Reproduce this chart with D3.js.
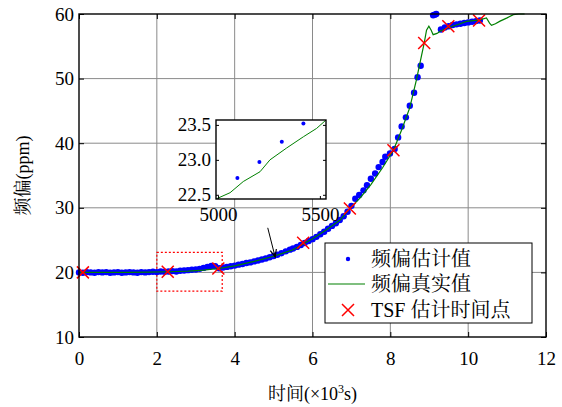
<!DOCTYPE html>
<html>
<head>
<meta charset="utf-8">
<script src="https://cdn.jsdelivr.net/npm/d3@7"></script>
<style>
body { margin: 0; background: #fff; }
</style>
</head>
<body>
<div id="chart"></div>
<script>
// estimated frequency offset (x in 10^3 s, y in ppm)
var estX = [0.0,0.1,0.2,0.3,0.4,0.5,0.6,0.7,0.8,0.9,1.0,1.1,1.2,1.3,1.4,1.5,1.6,1.7,1.8,1.9,
    2.0,2.1,2.2,2.3,2.4,2.5,2.6,2.7,2.8,2.9,3.0,3.1,3.2,3.3,3.4,3.5,3.6,3.7,3.8,3.9,
    4.0,4.1,4.2,4.3,4.4,4.5,4.6,4.7,4.8,4.9,5.0,5.095,5.203,5.313,5.419,5.5,5.6,5.7,5.8,5.9,
    6.0,6.1,6.2,6.3,6.4,6.5,6.6,6.7,6.8,6.9,7.0,7.1,7.2,7.31,7.4,7.5,7.61,7.7,7.8,7.87,
    7.99,8.11,8.2,8.29,8.4,8.5,8.61,8.7,8.78,9.1,9.14,9.18,9.3,9.4,9.5,9.6,9.7,9.8,9.9,10.0,10.1,10.2,10.3];
var estY = [20.0,19.95,20.05,20.0,19.95,20.05,20.0,20.05,19.95,20.0,20.05,19.95,20.0,20.05,20.0,19.95,20.05,20.0,20.05,20.1,
    20.05,20.15,20.1,20.15,20.2,20.15,20.25,20.3,20.35,20.4,20.45,20.55,20.7,20.85,21.0,20.95,20.65,20.75,20.85,20.95,
    21.05,21.2,21.3,21.45,21.55,21.7,21.85,22.0,22.15,22.35,22.55,22.74,22.97,23.26,23.52,23.7,23.95,24.25,24.55,24.85,
    25.15,25.5,25.9,26.3,26.75,27.2,27.6,28.1,28.7,29.4,30.3,31.4,32.0,32.7,33.5,34.5,35.3,36.3,37.1,37.9,
    38.4,39.1,40.9,42.6,44.0,45.8,47.8,50.2,52.0,59.8,59.9,60.0,57.6,57.9,58.1,58.3,58.4,58.5,58.6,58.7,58.8,58.9,59.0];

// true frequency offset
var trueX = [0,0.6,1.2,1.8,2.3,2.8,3.2,3.6,4.0,4.5,5.0,5.3,5.5,5.76,6.0,6.36,6.71,6.96,7.22,7.5,7.8,8.08,
    8.3,8.5,8.67,8.8,8.87,8.93,8.99,9.05,9.1,9.2,9.3,9.45,9.7,9.96,10.3,10.47,10.55,10.6,10.7,10.82,11.0,11.16,11.3,11.45];
var trueY = [20.0,20.0,20.0,20.05,20.1,20.2,20.35,20.6,21.0,21.7,22.5,23.1,23.5,24.4,25.2,26.6,28.1,29.9,31.5,33.6,36.2,38.9,
    42.2,45.5,49.8,53.5,55.5,57.5,58.1,57.5,56.8,57.0,57.4,57.8,58.3,58.85,59.1,59.4,58.6,58.25,58.5,58.9,59.4,59.9,60.0,60.0];

// TSF estimation time points
var tsfX = [0.1,2.28,3.58,5.76,6.96,8.08,8.87,9.49,10.28];
var tsfY = [20.0,20.1,20.6,24.6,29.9,38.9,55.5,58.1,59.0];

// inset (x in s)
var insetTrueX = [4990,5059,5124,5206,5255,5337,5419,5484,5530];
var insetTrueY = [22.44,22.53,22.69,22.83,23.0,23.17,23.33,23.45,23.57];
var insetEstX = [5095,5203,5313,5419];
var insetEstY = [22.74,22.97,23.26,23.52];

var xTicks = [0,2,4,6,8,10,12];
var yTicks = [10,20,30,40,50,60];
var insetXTicks = [5000,5500];
var insetYTicks = [22.5,23.0,23.5];
var legendLabels = ['频偏估计值', '频偏真实值', 'TSF 估计时间点'];

var FONT = '"Liberation Serif", "Noto Serif CJK SC", serif';

var width = 562, height = 407;
var margin = {top: 14, right: 16, bottom: 70, left: 79};
var w = width - margin.left - margin.right,
    h = height - margin.top - margin.bottom;

var svg = d3.select('#chart').append('svg').attr('width', width).attr('height', height)
    .style('display', 'block').style('font-family', FONT);
var g = svg.append('g').attr('transform', 'translate(' + margin.left + ',' + margin.top + ')');

var x = d3.scaleLinear().domain([0, 12]).range([0, w]);
var y = d3.scaleLinear().domain([10, 60]).range([h, 0]);

// grid
g.append('g').selectAll('line.gx').data(xTicks.slice(1, -1)).enter().append('line')
    .attr('x1', d => x(d)).attr('x2', d => x(d)).attr('y1', 0).attr('y2', h)
    .attr('stroke', '#8a8a8a').attr('stroke-width', 1);
g.append('g').selectAll('line.gy').data(yTicks.slice(1, -1)).enter().append('line')
    .attr('x1', 0).attr('x2', w).attr('y1', d => y(d)).attr('y2', d => y(d))
    .attr('stroke', '#8a8a8a').attr('stroke-width', 1);

function styleAxis(sel) {
    sel.attr('font-family', null);
    sel.select('.domain').remove();
    sel.selectAll('.tick line').attr('stroke', '#000');
    sel.selectAll('text').attr('fill', '#000').style('font-family', FONT);
}

g.append('g').attr('transform', 'translate(0,' + h + ')')
    .call(d3.axisBottom(x).tickValues(xTicks).tickSize(-5).tickPadding(15))
    .attr('font-size', 19).call(styleAxis);
g.append('g')
    .call(d3.axisLeft(y).tickValues(yTicks).tickSize(-5).tickPadding(5))
    .attr('font-size', 19).call(styleAxis);
g.append('g')
    .call(d3.axisTop(x).tickValues(xTicks).tickSize(-5).tickFormat(''))
    .call(styleAxis);
g.append('g').attr('transform', 'translate(' + w + ',0)')
    .call(d3.axisRight(y).tickValues(yTicks).tickSize(-5).tickFormat(''))
    .call(styleAxis);

// red dotted zoom box
g.append('rect')
    .attr('x', x(2.0)).attr('y', y(23.1))
    .attr('width', x(3.68) - x(2.0)).attr('height', y(17.1) - y(23.1))
    .attr('fill', 'none').attr('stroke', '#ff0000').attr('stroke-width', 1.2)
    .attr('stroke-dasharray', '2,2');

// estimate dots
var est = estX.map((v, i) => ({x: v, y: estY[i]}));
g.append('g').selectAll('circle').data(est).enter().append('circle')
    .attr('cx', d => x(d.x)).attr('cy', d => y(d.y)).attr('r', 3.2).attr('fill', '#0000ff');

// true line
var tru = trueX.map((v, i) => ({x: v, y: trueY[i]}));
var line = d3.line().x(d => x(d.x)).y(d => y(d.y));
g.append('path').datum(tru).attr('d', line)
    .attr('fill', 'none').attr('stroke', '#008000').attr('stroke-width', 1.2);

// TSF crosses
var cr = 6;
var tsf = tsfX.map((v, i) => ({x: v, y: tsfY[i]}));
g.append('g').selectAll('path').data(tsf).enter().append('path')
    .attr('d', d => 'M' + (x(d.x) - cr) + ',' + (y(d.y) - cr) + 'L' + (x(d.x) + cr) + ',' + (y(d.y) + cr) +
        'M' + (x(d.x) - cr) + ',' + (y(d.y) + cr) + 'L' + (x(d.x) + cr) + ',' + (y(d.y) - cr))
    .attr('stroke', '#ff0000').attr('stroke-width', 1.5).attr('fill', 'none');

// arrow
var a0 = [x(4.85), y(26.9)], a1 = [x(5.04), y(22.4)];
g.append('line').attr('x1', a0[0]).attr('y1', a0[1]).attr('x2', a1[0]).attr('y2', a1[1])
    .attr('stroke', '#000').attr('stroke-width', 1);
var ang = Math.atan2(a1[1] - a0[1], a1[0] - a0[0]), hl = 8, hw = 0.4;
g.append('path')
    .attr('d', 'M' + (a1[0] - hl * Math.cos(ang - hw)) + ',' + (a1[1] - hl * Math.sin(ang - hw)) +
        'L' + a1[0] + ',' + a1[1] +
        'L' + (a1[0] - hl * Math.cos(ang + hw)) + ',' + (a1[1] - hl * Math.sin(ang + hw)))
    .attr('fill', 'none').attr('stroke', '#000').attr('stroke-width', 1.2);

// box
g.append('rect').attr('width', w).attr('height', h).attr('fill', 'none')
    .attr('stroke', '#000').attr('stroke-width', 1.4);

// axis labels
g.append('text').attr('transform', 'translate(' + (23 - margin.left) + ',' + (h / 2) + ') rotate(-90)')
    .attr('text-anchor', 'middle').attr('dy', '0.35em').attr('font-size', 18)
    .style('font-family', FONT).text('频偏(ppm)');
var xl = g.append('text').attr('x', w / 2).attr('y', 386).attr('text-anchor', 'middle').attr('font-size', 18)
    .style('font-family', FONT);
xl.append('tspan').text('时间(×10');
xl.append('tspan').attr('font-size', 12).attr('dy', -7).text('3');
xl.append('tspan').attr('dy', 7).text('s)');

// inset
var ins = {x: 216, y: 120, w: 110, h: 79};
var ix = d3.scaleLinear().domain([4990, 5530]).range([0, ins.w]);
var iy = d3.scaleLinear().domain([22.44, 23.57]).range([ins.h, 0]);
var ig = svg.append('g').attr('transform', 'translate(' + ins.x + ',' + ins.y + ')');
ig.append('rect').attr('width', ins.w).attr('height', ins.h).attr('fill', '#fff');
svg.append('clipPath').attr('id', 'iclip').append('rect').attr('width', ins.w).attr('height', ins.h);
var ic = ig.append('g').attr('clip-path', 'url(#iclip)');
var itru = insetTrueX.map((v, i) => ({x: v, y: insetTrueY[i]}));
ic.append('path').datum(itru)
    .attr('d', d3.line().x(d => ix(d.x)).y(d => iy(d.y)))
    .attr('fill', 'none').attr('stroke', '#008000').attr('stroke-width', 1);
ic.selectAll('circle').data(insetEstX).enter().append('circle')
    .attr('cx', d => ix(d)).attr('cy', (d, i) => iy(insetEstY[i])).attr('r', 2).attr('fill', '#0000ff');
ig.append('g').attr('transform', 'translate(0,' + ins.h + ')')
    .call(d3.axisBottom(ix).tickValues(insetXTicks).tickSize(-3).tickPadding(9).tickFormat(d3.format('d')))
    .attr('font-size', 19).call(styleAxis);
ig.append('g')
    .call(d3.axisLeft(iy).tickValues(insetYTicks).tickSize(-3).tickPadding(5).tickFormat(d3.format('.1f')))
    .attr('font-size', 19).call(styleAxis);
ig.append('g').attr('transform', 'translate(' + ins.w + ',0)')
    .call(d3.axisRight(iy).tickValues(insetYTicks).tickSize(-3).tickFormat(''))
    .call(styleAxis);
ig.append('rect').attr('width', ins.w).attr('height', ins.h).attr('fill', 'none')
    .attr('stroke', '#000').attr('stroke-width', 1.4);

// legend
var lg = svg.append('g').attr('transform', 'translate(325,243)');
lg.append('rect').attr('width', 207).attr('height', 80).attr('fill', '#fff')
    .attr('stroke', '#000').attr('stroke-width', 1);
var rowY = [16, 41, 67];
lg.append('circle').attr('cx', 23).attr('cy', rowY[0]).attr('r', 2.2).attr('fill', '#0000ff');
lg.append('line').attr('x1', 3).attr('x2', 40).attr('y1', rowY[1]).attr('y2', rowY[1])
    .attr('stroke', '#008000').attr('stroke-width', 1.2);
lg.append('path')
    .attr('d', 'M' + (23 - cr) + ',' + (rowY[2] - cr) + 'L' + (23 + cr) + ',' + (rowY[2] + cr) +
        'M' + (23 - cr) + ',' + (rowY[2] + cr) + 'L' + (23 + cr) + ',' + (rowY[2] - cr))
    .attr('stroke', '#ff0000').attr('stroke-width', 1.5);
lg.selectAll('text').data(legendLabels).enter().append('text')
    .attr('x', 46).attr('y', (d, i) => rowY[i] + 7).attr('font-size', 20)
    .style('font-family', FONT).text(d => d);
</script>
</body>
</html>
